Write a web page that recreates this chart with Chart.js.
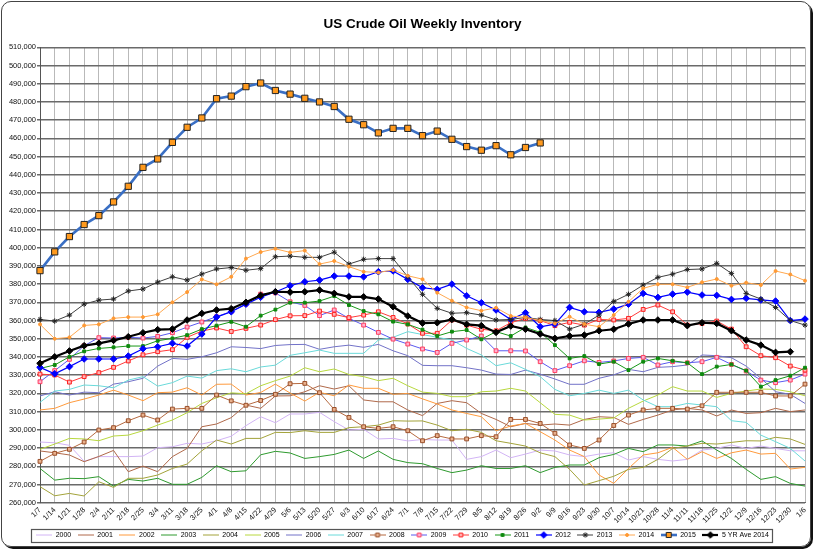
<!DOCTYPE html>
<html><head><meta charset="utf-8">
<script src="https://cdn.jsdelivr.net/npm/chart.js@4.4.1/dist/chart.umd.min.js"></script>
<style>
html,body{margin:0;padding:0;background:#fff;overflow:hidden;}
#frame{position:absolute;left:1px;top:1px;width:808px;height:544px;border:1px solid #444;border-radius:10px;box-shadow:2px 2px 0 #111;}
#c{position:absolute;left:0;top:0;}
</style></head><body>
<div id="frame"></div>
<canvas id="c" width="817" height="551"></canvas>
<script>
// Weeks (category labels)
const weeks = ['1/7','1/14','1/21','1/28','2/4','2/11','2/18','2/25','3/4','3/11','3/18','3/25','4/1','4/8','4/15','4/22','4/29','5/6','5/13','5/20','5/27','6/3','6/10','6/17','6/24','7/1','7/8','7/15','7/22','7/29','8/5','8/12','8/19','8/26','9/2','9/9','9/16','9/23','9/30','10/7','10/14','10/21','10/28','11/4','11/11','11/18','11/25','12/2','12/9','12/16','12/23','12/30','1/6'];

// Y-axis tick range (thousand barrels)
const yMin = 260, yMax = 510, yStep = 10;

// Series values in thousand barrels
const y2000 = [293.3,292.9,291.5,282.7,285.3,285.3,285.3,285.6,290.2,290.7,292.6,292.2,294.0,296.5,302.3,307.2,303.9,308.7,308.7,309.6,304.5,299.9,300.3,295.0,295.3,293.9,294.7,294.4,294.4,283.8,285.3,288.9,284.7,286.7,288.9,288.4,286.2,285.3,286.7,287.4,283.4,285.3,283.8,282.9,283.8,288.9,289.8,291.7,289.8,291.1,289.8,288.5,288.5];
const y2001 = [288.4,287.4,286.2,282.5,285.4,288.7,277.0,280.1,277.0,285.3,289.8,301.7,303.2,306.7,313.6,311.8,318.6,318.7,320.9,324.2,322.4,324.2,316.4,315.4,315.4,310.9,307.8,314.5,316.0,314.9,309.0,305.7,301.7,303.5,302.6,303.2,302.6,305.7,307.2,306.8,303.0,305.7,308.1,310.9,311.8,310.9,307.6,310.9,309.0,309.4,311.8,310.0,310.9];
const y2002 = [310.9,311.8,314.9,316.9,319.1,321.8,319.1,316.0,320.4,320.7,323.1,319.1,325.0,325.1,319.1,320.5,325.1,320.2,315.8,320.6,318.7,324.6,322.8,322.8,319.5,320.0,317.0,314.2,310.9,309.0,307.2,299.5,302.1,303.5,299.0,294.4,288.9,285.3,275.2,270.6,278.8,286.2,287.4,290.4,283.8,288.0,284.3,287.4,288.9,286.7,287.1,278.5,279.4];
const y2003 = [278.8,272.4,273.4,273.2,274.3,269.1,272.8,271.9,273.4,270.1,270.1,273.9,280.3,277.0,277.5,286.3,288.2,287.3,284.3,285.3,286.5,288.9,284.3,288.4,283.8,282.0,281.4,278.8,276.5,277.9,280.3,278.8,278.8,280.3,276.5,279.4,280.7,280.7,284.7,286.5,289.8,288.0,291.7,291.7,291.1,293.9,288.9,284.3,278.3,272.8,274.3,270.6,269.1];
const y2004 = [268.8,263.8,265.1,263.7,271.5,268.4,273.4,273.4,275.2,278.8,281.2,288.5,294.4,292.2,295.3,295.3,298.6,298.5,299.5,298.6,298.6,301.2,301.7,302.6,305.0,304.8,304.9,302.6,299.5,300.3,298.6,294.0,292.6,291.1,287.4,285.3,278.3,269.7,272.1,274.5,278.3,279.4,283.8,289.8,291.1,292.6,292.2,293.1,294.0,293.9,295.9,295.0,292.0];
const y2005 = [289.3,292.2,295.3,295.0,294.0,296.6,297.1,299.5,302.6,305.4,309.4,314.5,317.6,320.3,319.8,324.2,327.0,329.5,334.1,331.9,333.4,330.4,329.2,327.0,328.3,324.2,320.7,320.0,318.2,318.2,320.9,321.3,322.8,321.3,314.9,308.5,308.1,305.4,305.9,306.5,311.8,315.8,319.1,323.7,321.3,321.3,317.8,320.0,321.3,322.4,322.2,320.9,318.7];
const y2006 = [318.6,320.9,319.1,320.7,320.4,325.1,326.4,328.3,335.0,339.2,338.7,340.1,342.3,345.6,345.2,344.6,346.3,346.8,346.9,344.2,345.6,346.5,345.3,346.9,343.4,340.7,335.4,335.2,335.2,334.1,332.8,330.6,330.4,332.8,330.6,327.9,325.0,325.0,328.3,330.2,333.2,331.9,334.3,334.7,335.6,341.1,340.7,339.6,335.0,328.3,320.9,319.5,314.5];
const y2007 = [315.1,321.3,322.2,324.6,324.2,323.1,327.3,329.2,324.0,325.9,329.5,328.4,332.5,333.5,331.9,334.5,335.5,340.9,342.3,343.8,342.0,342.0,342.0,349.3,350.8,353.9,352.3,350.8,349.3,344.7,341.1,335.2,336.8,333.2,329.2,322.2,318.7,320.0,321.8,320.0,321.8,316.4,312.7,312.7,314.5,313.6,312.7,305.0,304.1,297.1,293.5,289.8,282.9];
const y2008 = [282.7,287.1,289.3,293.3,299.9,301.2,305.0,308.1,305.4,311.4,311.8,311.8,319.1,315.9,313.5,316.1,319.5,325.3,325.5,320.4,311.2,306.8,301.7,300.8,301.7,299.5,294.0,296.8,295.0,295.0,296.8,296.2,305.7,305.7,303.5,298.1,291.7,289.8,294.4,302.4,308.1,310.9,311.8,311.8,311.4,313.2,320.6,320.6,320.6,320.6,318.6,318.6,325.1];
const y2009 = [326.4,332.5,338.7,346.2,350.6,350.4,350.8,350.4,351.3,353.3,356.4,359.2,362.1,365.0,369.0,374.5,375.2,370.3,368.3,362.7,365.8,361.2,357.5,353.5,349.8,347.1,344.4,342.5,347.5,349.3,351.5,343.4,343.4,343.3,337.4,332.5,335.2,337.9,337.0,337.8,339.2,339.8,335.6,337.4,336.8,337.4,339.8,335.9,332.3,327.3,325.9,327.3,330.6];
const y2010 = [330.6,330.1,326.2,329.2,331.4,334.3,337.8,341.2,342.9,344.0,350.8,354.2,355.9,354.0,355.7,357.5,360.5,362.6,362.7,365.2,363.4,361.6,363.0,364.8,361.7,358.1,353.0,353.0,360.3,357.5,355.2,354.4,358.8,361.2,360.0,357.2,359.0,357.5,360.6,360.3,361.2,366.1,368.5,364.8,357.5,358.4,359.7,355.3,345.6,340.7,339.6,335.0,332.8];
const y2011 = [333.7,335.6,340.1,343.1,344.7,345.3,346.0,346.0,348.9,350.2,352.0,355.3,357.2,359.3,356.6,362.7,366.0,369.8,369.8,370.7,373.4,368.5,365.2,363.4,359.4,357.9,355.0,351.5,353.9,354.8,349.7,353.9,351.5,356.2,353.5,346.5,339.2,340.5,336.1,337.4,332.8,337.4,339.2,337.9,336.8,330.6,334.7,335.9,332.5,323.7,327.3,329.7,334.1];
const y2012 = [334.3,330.8,334.7,338.9,338.9,338.9,340.5,344.5,345.6,347.5,346.0,352.6,361.9,364.8,369.0,372.8,375.7,379.1,381.3,382.2,384.4,384.4,384.0,386.8,387.2,382.6,378.0,377.1,380.0,373.6,369.8,365.8,360.6,364.3,356.6,358.0,367.2,364.8,364.5,366.3,369.0,374.9,372.7,374.5,375.6,374.0,373.8,371.6,372.2,371.3,370.7,360.0,360.8];
const y2013 = [360.6,359.7,363.0,369.0,371.2,371.8,376.2,377.3,381.1,384.0,382.2,385.5,388.3,389.1,387.6,388.5,395.0,395.4,394.7,394.7,397.5,391.0,393.6,394.0,394.0,384.0,374.4,366.7,364.0,364.3,363.0,360.3,360.6,361.7,360.6,360.0,355.3,358.0,363.0,370.5,374.4,379.5,383.7,385.5,388.0,388.3,391.4,385.9,374.9,371.8,367.2,360.0,357.5];
const y2014 = [357.9,350.0,350.8,357.3,357.9,361.2,361.9,361.9,363.4,370.0,375.6,382.6,379.9,384.0,394.0,397.6,399.4,397.4,398.4,391.0,392.7,389.6,386.8,386.4,387.7,384.6,382.7,375.3,370.9,367.2,365.4,367.0,362.5,361.7,360.0,358.4,362.1,358.0,356.6,363.0,370.3,377.7,379.9,379.9,378.2,381.0,382.8,379.1,380.8,379.5,387.2,385.3,381.9];
const y2015 = [387.4,397.7,406.1,412.7,417.6,425.1,433.7,444.1,448.7,457.8,466.1,471.2,481.8,483.2,488.4,490.4,486.3,484.3,482.0,480.0,477.5,470.5,467.5,463.0,465.5,465.5,461.5,464.0,459.5,455.5,453.5,456.0,451.0,455.0,457.5];
const yAvg5 = [336.5,340.1,343.3,346.2,347.5,349.1,351.1,353.3,355.0,355.3,360.3,363.9,365.8,366.5,370.0,373.8,375.8,375.6,375.8,376.7,374.9,373.0,373.0,371.8,367.6,362.5,358.6,358.8,360.6,357.9,357.2,353.5,357.0,355.2,352.6,350.2,351.5,352.0,354.4,355.2,358.1,360.3,360.3,360.3,357.2,358.8,358.4,354.4,349.3,346.5,342.5,342.9];

const seriesLabels = ['2000','2001','2002','2003','2004','2005','2006','2007','2008','2009','2010','2011','2012','2013','2014','2015','5 YR Ave 2014'];
const seriesData = [y2000,y2001,y2002,y2003,y2004,y2005,y2006,y2007,y2008,y2009,y2010,y2011,y2012,y2013,y2014,y2015,yAvg5];

// Styles
const styles = [
  {c:'#D2B4F5'},
  {c:'#B0694A'},
  {c:'#FF9A3C'},
  {c:'#2E9A2E'},
  {c:'#A3A33A'},
  {c:'#B8D83E'},
  {c:'#7272C8'},
  {c:'#6ADADA'},
  {c:'#B5693F', ps:'rect', r:2.7, pb:'#E8B08C', pc:'#9A4F2A'},
  {c:'#5A5AF0', ps:'rect', r:2.7, pb:'#FFB0D0', pc:'#FF3F5F'},
  {c:'#FF3B3B', ps:'rect', r:2.7, pb:'#FFB4B4', pc:'#FF2020'},
  {c:'#179717', ps:'rect', r:2.0, pb:'#0E8A0E', pc:'#0E8A0E'},
  {c:'#0000FF', ps:'rectRot', r:3.3, pb:'#0000FF', pc:'#0000FF', w:1.2},
  {c:'#404040', ps:'star', r:2.7, pb:'#222', pc:'#222'},
  {c:'#FFA850', ps:'circle', r:1.5, pb:'#FF9933', pc:'#FF9933'},
  {c:'#3A6FC4', ps:'rect', r:4.4, pb:'#FF9A1E', pc:'#222', w:2.6},
  {c:'#000000', ps:'rectRot', r:3.3, pb:'#000', pc:'#000', w:2.2}
];

function legendImage(s) {
  const cv = document.createElement('canvas');
  cv.width = 16; cv.height = 10;
  const ctx = cv.getContext('2d');
  ctx.strokeStyle = s.c; ctx.lineWidth = s.w || 1;
  ctx.beginPath(); ctx.moveTo(0, 5); ctx.lineTo(16, 5); ctx.stroke();
  if (s.ps && Chart.helpers && Chart.helpers.drawPoint) {
    ctx.fillStyle = s.pb; ctx.strokeStyle = s.pc; ctx.lineWidth = 1;
    Chart.helpers.drawPoint(ctx, {pointStyle: s.ps, radius: Math.min(s.r, 3.6), borderWidth: 1, rotation: 0}, 8, 5);
  }
  return cv;
}

const datasets = seriesData.map((d, i) => {
  const s = styles[i];
  return {
    label: seriesLabels[i],
    data: d,
    borderColor: s.c,
    backgroundColor: s.c,
    borderWidth: s.w || 1,
    pointRadius: s.ps ? s.r : 0,
    pointStyle: s.ps || 'circle',
    pointBackgroundColor: s.pb || s.c,
    pointBorderColor: s.pc || s.c,
    pointBorderWidth: 1,
    tension: 0,
    fill: false,
    order: 100 - i
  };
});
const legendImgs = styles.map(legendImage);

const legendBox = {
  id: 'legendBox',
  afterDraw(chart) {
    const lg = chart.legend; if (!lg || !lg.legendHitBoxes || !lg.legendHitBoxes.length) return;
    const hb = lg.legendHitBoxes;
    let l = Infinity, r = -Infinity;
    hb.forEach(h => { l = Math.min(l, h.left); r = Math.max(r, h.left + h.width); });
    const t = hb[0].top, b = hb[0].top + hb[0].height;
    const ctx = chart.ctx; ctx.save();
    ctx.strokeStyle = '#555'; ctx.lineWidth = 1.2;
    ctx.strokeRect(Math.round(l - 5) + 0.5, Math.round(t - 3) + 0.5, Math.round(r - l + 8), Math.round(b - t + 6));
    ctx.restore();
  }
};

new Chart(document.getElementById('c'), {
  type: 'line',
  data: { labels: weeks, datasets },
  plugins: [legendBox],
  options: {
    responsive: false,
    animation: false,
    events: [],
    layout: { padding: { left: 0, right: 12, top: 0, bottom: 2.5 } },
    plugins: {
      tooltip: { enabled: false },
      title: {
        display: true, fullSize: false,
        text: 'US Crude Oil Weekly Inventory',
        color: '#000',
        font: { family: 'Liberation Sans', size: 13.5, weight: 'bold' },
        padding: { top: 16.3, bottom: 14.8 }
      },
      legend: {
        position: 'bottom',
        labels: {
          usePointStyle: true,
          pointStyleWidth: 16,
          padding: 6.6,
          color: '#000',
          font: { family: 'Liberation Sans', size: 7 },
          generateLabels(chart) {
            return chart.data.datasets.map((ds, i) => ({
              text: ds.label, datasetIndex: i, pointStyle: legendImgs[i],
              hidden: false, lineWidth: 0, fillStyle: 'transparent', strokeStyle: 'transparent', fontColor: '#000'
            }));
          }
        }
      }
    },
    scales: {
      x: {
        type: 'category',
        offset: false,
        afterFit(scale) { scale.height = 22.2; },
        grid: { color: '#b9b9b9', lineWidth: 1, drawTicks: false, offset: false },
        border: { color: '#666', width: 1 },
        ticks: {
          autoSkip: false, minRotation: 45, maxRotation: 45, padding: 3,
          color: '#111', font: { family: 'Liberation Sans', size: 7.5 }
        }
      },
      y: {
        min: yMin, max: yMax,
        afterFit(scale) { scale.width = 40; },
        grid: { color: '#6a6a6a', lineWidth: 1.5, drawTicks: true, tickLength: 3 },
        border: { color: '#555', width: 1 },
        ticks: {
          stepSize: yStep, padding: 1, color: '#111',
          font: { family: 'Liberation Sans', size: 7.5 },
          callback: (v) => (v * 1000).toLocaleString('en-US')
        }
      }
    }
  }
});
</script>
</body></html>
